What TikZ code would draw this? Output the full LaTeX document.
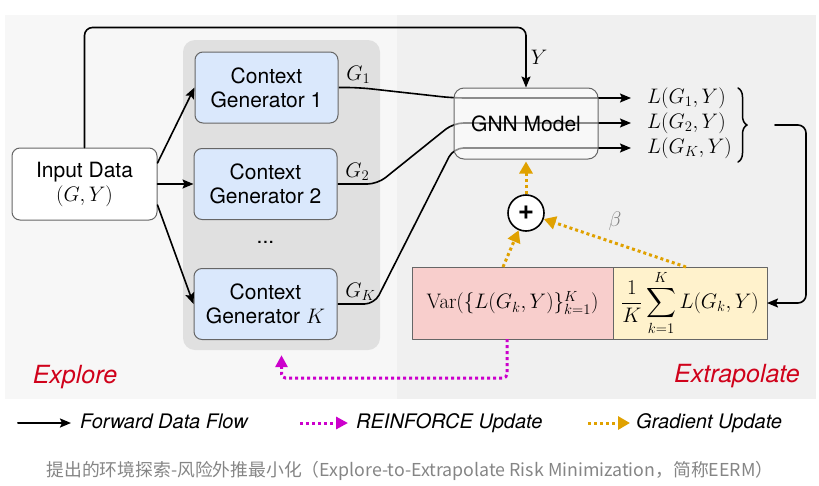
\RequirePackage{fix-cm}
\documentclass[tikz,border=0pt]{standalone}
\usepackage{exscale}
\usepackage[no-math]{fontspec}
\newfontfamily\sansfont{TeX Gyre Heros}
\newfontfamily\cjkfont{Noto Sans CJK SC}
\usetikzlibrary{arrows.meta,positioning,backgrounds,decorations.pathreplacing}
\definecolor{genblue}{HTML}{DAE8FC}
\definecolor{varpink}{HTML}{F8CECC}
\definecolor{sumyellow}{HTML}{FFF2CC}
\definecolor{gradorange}{HTML}{E0A100}
\definecolor{reinfmag}{HTML}{CC00CC}
\definecolor{labelred}{HTML}{D0021B}
\definecolor{boxline}{HTML}{666666}
\definecolor{panelleft}{HTML}{F7F7F7}
\definecolor{panelright}{HTML}{F0F0F0}
\definecolor{gengray}{HTML}{E0E0E0}
\definecolor{capgray}{HTML}{858585}
\begin{document}
\begin{tikzpicture}[x=1pt, y=-1pt, line join=round, line cap=round,
	>={Stealth[length=11pt,width=9pt,inset=2pt]},
	sans/.style={font=\sansfont\fontsize{21}{24}\selectfont},
	box/.style={sans, draw=boxline, line width=1pt, rounded corners=8pt, align=center, inner sep=0pt},
	genbox/.style={box, fill=genblue, minimum width=143pt, minimum height=71pt},
	lossbox/.style={box, rounded corners=0pt, minimum height=72pt, outer sep=0pt, font=\fontsize{21}{24}\selectfont},
	mathlbl/.style={font=\fontsize{21}{24}\selectfont, inner sep=1pt},
	glbl/.style={mathlbl, anchor=south west, xshift=6pt, yshift=2pt},
	flow/.style={->, line width=1.6pt},
	grad/.style={-{Triangle[length=12pt,width=13pt]}, gradorange, line width=3pt, line cap=butt, dash pattern=on 3pt off 3pt},
	reinf/.style={-{Triangle[length=12pt,width=12pt]}, reinfmag, line width=3pt, line cap=butt, dash pattern=on 3pt off 3pt},
	region/.style={font=\sansfont\itshape\fontsize{25}{30}\selectfont, text=labelred},
	legend/.style={font=\sansfont\itshape\fontsize{20}{24}\selectfont, anchor=west, inner sep=0pt, text height=14pt, text depth=4pt}]
	\useasboundingbox (0,0) rectangle (819,485);
	%\draw[color=gray!50,dashed] (0,0) grid[step=50] (819,485);
	\begin{scope}[on background layer]
		\fill[panelleft] (5,15) rectangle (397,399);
		\fill[panelright] (397,15) rectangle (816,399);
		\node[fill=gengray, rounded corners=12pt, minimum width=197pt, minimum height=310pt, inner sep=0pt] (gens) at (281.5,195) {};
	\end{scope}
	\node[box, fill=white, minimum width=145pt, minimum height=72pt] (input) at (84.5,184) {Input Data\\$(G,Y)$};
	\node[genbox] (cg1) at (266.5,87.5) {Context\\Generator 1};
	\node[genbox] (cg2) at (265.5,184) {Context\\Generator 2};
	\node[sans] (gdots) at (265.5,242) {...};
	\node[genbox] (cgk) at (265.5,304) {Context\\Generator $K$};
	\node[box, fill=white, fill opacity=0.55, text opacity=1, draw opacity=1, rounded corners=10pt, minimum width=144pt, minimum height=71pt] (gnn) at (526,123.5) {GNN Model};
	\node[mathlbl, anchor=west] (l1) at (646,98) {$L(G_1,Y)$};
	\node[mathlbl, anchor=west] (l2) at (646,123) {$L(G_2,Y)$};
	\node[mathlbl, anchor=west] (lk) at (646,148) {$L(G_K,Y)$};
	\draw[decorate, decoration={brace, amplitude=9pt}, line width=1.5pt] (738,88) -- (738,162);
	\coordinate (lossout) at (775,125);
	\node[lossbox, fill=varpink, minimum width=201pt] (var) at (512.5,303) {$\mathrm{Var}(\{L(G_k,Y)\}_{k=1}^{K})$};
	\node[lossbox, fill=sumyellow, minimum width=154pt, right=0pt of var] (sum) {$\displaystyle\frac{1}{K}\sum_{k=1}^{K}L(G_k,Y)$};
	\node[circle, draw, line width=1.6pt, fill=white, minimum size=36pt, inner sep=0pt, font=\sansfont\bfseries\fontsize{28}{28}\selectfont] (plus) at (526,213) {+};
	% forward data flow
	\draw[flow] ([yshift=21pt]input.east) -- (cg1.west);
	\draw[flow] (input.east) -- (cg2.west);
	\draw[flow] ([yshift=-21pt]input.east) -- (cgk.west);
	\draw[flow, rounded corners=8pt] (input.north) -- ++(0,-120) -| node[pos=0.75, right=3pt, mathlbl] {$Y$} (gnn.north);
	\begin{scope}[on background layer]
		\draw[flow, rounded corners=12pt, shorten >=15pt] (cg1.east) node[glbl] {$G_1$} -- ++(20,0) -- (gnn.west |- l1) -- (l1);
		\draw[flow, rounded corners=10pt, shorten >=15pt] (cg2.east) node[glbl] {$G_2$} -- ++(40,0) -- (gnn.west |- l2) -- (l2);
		\draw[flow, rounded corners=10pt, shorten >=15pt] (cgk.east) node[glbl] {$G_K$} -- ++(37,0) -- (gnn.west |- lk) -- (lk);
	\end{scope}
	\draw[flow, rounded corners=8pt] (lossout) -| ([xshift=39pt]sum.east) -- (sum.east);
	% updates
	\draw[grad, shorten >=2pt] (plus) -- (gnn);
	\draw[grad] ([xshift=-9.5pt]var.north) -- (plus);
	\draw[grad] ([xshift=-4pt]sum.north) -- node[above=10pt, mathlbl, text=gray] {$\beta$} (plus);
	\draw[reinf, rounded corners=4pt] ([xshift=-5.5pt]var.south) -- ++(0,39) -| ([yshift=-5pt]gens.south);
	\node[region] (explore) at (75,377) {Explore};
	\node[region] (extrap) at (737,376) {Extrapolate};
	% legend
	\coordinate (lgflow) at (18,423);
	\node[legend] (lgflowtxt) at (80,423) {Forward Data Flow};
	\draw[flow, line width=2pt, shorten >=9pt] (lgflow) -- (lgflowtxt);
	\coordinate (lgreinf) at (300,423);
	\node[legend] (lgreinftxt) at (356,423) {REINFORCE Update};
	\draw[reinf, shorten >=8pt] (lgreinf) -- (lgreinftxt);
	\coordinate (lggrad) at (588,423);
	\node[legend] (lggradtxt) at (636,423) {Gradient Update};
	\draw[grad, shorten >=6pt] (lggrad) -- (lggradtxt);
	\node[font=\cjkfont\fontsize{17.8}{20}\selectfont, text=capgray] (caption) at (410,471) {提出的环境探索-风险外推最小化（Explore-to-Extrapolate Risk Minimization，简称EERM）};
\end{tikzpicture}
\end{document}
